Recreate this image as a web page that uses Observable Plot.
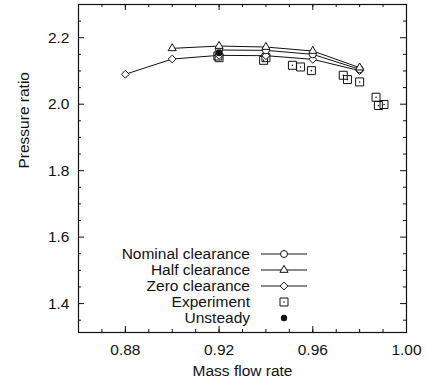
<!DOCTYPE html>
<html><head><meta charset="utf-8">
<script src="https://cdn.jsdelivr.net/npm/d3@7"></script>
<script src="https://cdn.jsdelivr.net/npm/@observablehq/plot@0.6"></script>
<style>body{margin:0;background:#fff}</style>
</head><body><div id="chart"></div>
<script>
// ---- data ----
const nominalX = [0.92, 0.94, 0.96, 0.98];
const nominalY = [2.163, 2.162, 2.150, 2.105];
const halfX = [0.90, 0.92, 0.94, 0.96, 0.98];
const halfY = [2.168, 2.175, 2.172, 2.160, 2.110];
const zeroX = [0.88, 0.90, 0.92, 0.94, 0.96, 0.98];
const zeroY = [2.090, 2.136, 2.147, 2.146, 2.135, 2.101];
const expX = [0.9195, 0.9200, 0.9390, 0.9400, 0.9513, 0.9548, 0.9594, 0.9730, 0.9748, 0.9800, 0.9870, 0.9880, 0.9904];
const expY = [2.145, 2.140, 2.132, 2.140, 2.117, 2.112, 2.101, 2.087, 2.074, 2.067, 2.021, 1.996, 1.999];
const unsteadyX = [0.92];
const unsteadyY = [2.155];
const xTicks = [0.88, 0.92, 0.96, 1.00];
const xMinorTicks = [0.86, 0.87, 0.88, 0.89, 0.90, 0.91, 0.92, 0.93, 0.94, 0.95, 0.96, 0.97, 0.98, 0.99, 1.00];
const yTicks = [1.4, 1.6, 1.8, 2.0, 2.2];
const yMinorTicks = [1.35, 1.45, 1.5, 1.55, 1.65, 1.7, 1.75, 1.85, 1.9, 1.95, 2.05, 2.1, 2.15, 2.25];
const legendLabels = ["Nominal clearance", "Half clearance", "Zero clearance", "Experiment", "Unsteady"];
const xLabel = "Mass flow rate";
const yLabel = "Pressure ratio";

const FONT = "'Liberation Sans', Arial, Helvetica, sans-serif";
const FS = 15.5;
const INK = "#111";
const rows = (xs, ys) => xs.map((x, i) => ({x, y: ys[i]}));
const nominal = rows(nominalX, nominalY);
const half = rows(halfX, halfY);
const zero = rows(zeroX, zeroY);
const exp = rows(expX, expY);
const unsteady = rows(unsteadyX, unsteadyY);

const W = 427, H = 383, mL = 78, mR = 21, mT = 4, mB = 51;
const plotH = H - mT - mB, plotW = W - mL - mR;
const MAJ = 6, MIN = 3;
const R_CIRC = 3.5, R_TRI = 3, R_DIA = 3.5, R_SQ = 4.5;

function legend(index, scales, values, dims) {
  const g = d3.create("svg:g").attr("font-family", FONT).attr("font-size", FS).attr("fill", INK);
  const textRight = dims.marginLeft + 172;
  const bottom = dims.height - dims.marginBottom;
  const rowY = [-78, -62, -46, -30, -14].map(d => bottom + d);
  const lineX1 = textRight + 11, lineX2 = textRight + 57, markX = textRight + 34;
  const sym = (type, r) => d3.symbol().type(type).size(Math.PI * r * r)();
  legendLabels.forEach((lab, i) => {
    const y = rowY[i];
    g.append("text").attr("x", textRight).attr("y", y).attr("dy", "0.35em")
      .attr("text-anchor", "end").text(lab);
    if (i < 3) {
      g.append("line").attr("x1", lineX1).attr("x2", lineX2).attr("y1", y).attr("y2", y)
        .attr("stroke", INK).attr("stroke-width", 1);
      const t = [d3.symbolCircle, d3.symbolTriangle, d3.symbolDiamond2][i];
      const r = [R_CIRC, R_TRI, R_DIA][i];
      g.append("path").attr("d", sym(t, r)).attr("transform", `translate(${markX},${y})`)
        .attr("fill", "white").attr("stroke", INK).attr("stroke-width", 1);
    } else if (i === 3) {
      g.append("path").attr("d", sym(d3.symbolSquare, R_SQ)).attr("transform", `translate(${markX},${y})`)
        .attr("fill", "none").attr("stroke", INK).attr("stroke-width", 1);
      g.append("circle").attr("cx", markX).attr("cy", y).attr("r", 0.8).attr("fill", INK);
    } else {
      g.append("circle").attr("cx", markX).attr("cy", y).attr("r", 3.2).attr("fill", INK);
    }
  });
  return g.node();
}

const tickGrid = (ticks, len) => [
  Plot.gridX(ticks, {stroke: INK, strokeOpacity: 1, strokeWidth: 1, insetTop: plotH - len}),
  Plot.gridX(ticks, {stroke: INK, strokeOpacity: 1, strokeWidth: 1, insetBottom: plotH - len})
];
const tickGridY = (ticks, len) => [
  Plot.gridY(ticks, {stroke: INK, strokeOpacity: 1, strokeWidth: 1, insetRight: plotW - len}),
  Plot.gridY(ticks, {stroke: INK, strokeOpacity: 1, strokeWidth: 1, insetLeft: plotW - len})
];

const chart = Plot.plot({
  width: W, height: H,
  marginLeft: mL, marginRight: mR, marginTop: mT, marginBottom: mB,
  style: {fontFamily: FONT, fontSize: FS + "px", color: INK, background: "white"},
  x: {domain: [0.86, 1.00]},
  y: {domain: [1.313, 2.3]},
  marks: [
    ...tickGrid(xMinorTicks, MIN),
    ...tickGrid(xTicks, MAJ),
    ...tickGridY(yMinorTicks, MIN),
    ...tickGridY(yTicks, MAJ),
    Plot.axisX({ticks: xTicks, tickSize: 0, tickPadding: 11, tickFormat: d => d.toFixed(2), label: null, fontSize: FS}),
    Plot.axisY({ticks: yTicks, tickSize: 0, tickPadding: 9, tickFormat: d => d.toFixed(1), label: null, fontSize: FS}),
    Plot.text([xLabel], {text: d => d, frameAnchor: "bottom", dy: 43, fontSize: FS, fill: INK}),
    Plot.text([yLabel], {text: d => d, frameAnchor: "left", dx: -54, rotate: -90, fontSize: FS, fill: INK}),
    Plot.frame({stroke: INK, strokeWidth: 1.2}),
    Plot.line(zero, {x: "x", y: "y", stroke: INK, strokeWidth: 1}),
    Plot.line(nominal, {x: "x", y: "y", stroke: INK, strokeWidth: 1}),
    Plot.line(half, {x: "x", y: "y", stroke: INK, strokeWidth: 1}),
    Plot.dot(exp, {x: "x", y: "y", symbol: "square", r: R_SQ, fill: "none", stroke: INK, strokeWidth: 1}),
    Plot.dot(exp, {x: "x", y: "y", r: 0.8, fill: INK}),
    Plot.dot(zero, {x: "x", y: "y", symbol: "diamond2", r: R_DIA, fill: "white", stroke: INK, strokeWidth: 1}),
    Plot.dot(nominal, {x: "x", y: "y", symbol: "circle", r: R_CIRC, fill: "white", stroke: INK, strokeWidth: 1}),
    Plot.dot(half, {x: "x", y: "y", symbol: "triangle", r: R_TRI, fill: "white", stroke: INK, strokeWidth: 1}),
    Plot.dot(unsteady, {x: "x", y: "y", r: 3.5, fill: INK}),
    legend
  ]
});
document.getElementById("chart").appendChild(chart);
</script>
</body></html>
